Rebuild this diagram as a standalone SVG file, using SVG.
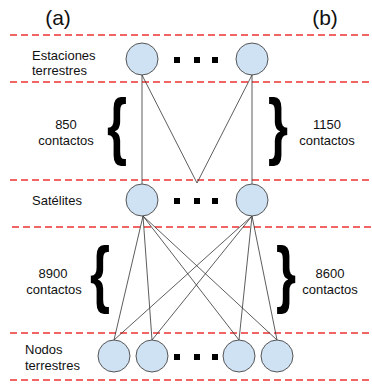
<svg xmlns="http://www.w3.org/2000/svg" width="372" height="386" viewBox="0 0 372 386">
<style>
text{font-family:"Liberation Sans",Arial,sans-serif;fill:#111}
.lbl{font-size:13px;text-anchor:middle}
.left{font-size:13px;text-anchor:start}
.hdr{font-size:21px;text-anchor:middle}
.dash{stroke:#ee3333;stroke-width:1.4;stroke-dasharray:7 4;fill:none}
.node{fill:#cfe2f3;stroke:#555;stroke-width:1}
.dot{fill:#000}
.edge{stroke:#333;stroke-width:0.8;fill:none}
.brace{font-weight:bold;text-anchor:middle;fill:#000}
</style>
<g id="separators">
<line class="dash" x1="10" y1="35" x2="372" y2="35"/>
<line class="dash" x1="10" y1="82" x2="372" y2="82"/>
<line class="dash" x1="10" y1="180" x2="372" y2="180"/>
<line class="dash" x1="12" y1="227" x2="372" y2="227"/>
<line class="dash" x1="10" y1="333" x2="372" y2="333"/>
<line class="dash" x1="10" y1="380" x2="372" y2="380"/>
</g>
<g id="headers">
<text class="hdr" x="58" y="25">(a)</text>
<text class="hdr" x="325" y="25">(b)</text>
</g>
<g id="row-labels">
<text class="left" x="32" y="60">Estaciones</text>
<text class="left" x="32" y="75">terrestres</text>
<text class="lbl" x="57" y="205">Satélites</text>
<text class="left" x="25" y="354">Nodos</text>
<text class="left" x="25" y="370">terrestres</text>
</g>
<g id="counts">
<text class="lbl" x="66" y="129">850</text>
<text class="lbl" x="66" y="145">contactos</text>
<text class="lbl" x="327" y="129">1150</text>
<text class="lbl" x="327" y="145">contactos</text>
<text class="lbl" x="53" y="278">8900</text>
<text class="lbl" x="54" y="294">contactos</text>
<text class="lbl" x="330" y="278">8600</text>
<text class="lbl" x="330" y="294">contactos</text>
</g>
<g id="braces">
<text class="brace" transform="translate(117,151) scale(1.05,1.5)" font-size="49">{</text>
<text class="brace" transform="translate(278,151) scale(1.05,1.5)" font-size="49">}</text>
<text class="brace" transform="translate(100,299) scale(1.05,1.5)" font-size="49">{</text>
<text class="brace" transform="translate(286,299) scale(1.05,1.5)" font-size="49">}</text>
</g>
<g id="connectors">
<line class="edge" x1="142" y1="75" x2="142" y2="184"/>
<line class="edge" x1="142" y1="75" x2="197" y2="183"/>
<line class="edge" x1="252" y1="75" x2="197" y2="183"/>
<line class="edge" x1="252" y1="75" x2="252" y2="184"/>
<line class="edge" x1="143" y1="216" x2="114" y2="340"/>
<line class="edge" x1="143" y1="216" x2="152" y2="340"/>
<line class="edge" x1="143" y1="216" x2="239" y2="340"/>
<line class="edge" x1="143" y1="216" x2="277" y2="340"/>
<line class="edge" x1="252" y1="216" x2="114" y2="340"/>
<line class="edge" x1="252" y1="216" x2="152" y2="340"/>
<line class="edge" x1="252" y1="216" x2="239" y2="340"/>
<line class="edge" x1="252" y1="216" x2="277" y2="340"/>
</g>
<g id="estacion-1"><circle class="node" cx="142" cy="59" r="16"/></g>
<g id="estacion-n"><circle class="node" cx="252" cy="59" r="16"/></g>
<g id="estacion-dots">
<rect class="dot" x="174" y="57" width="6" height="6"/>
<rect class="dot" x="194" y="57" width="6" height="6"/>
<rect class="dot" x="212" y="57" width="6" height="6"/>
</g>
<g id="satelite-1"><circle class="node" cx="142" cy="200" r="16"/></g>
<g id="satelite-n"><circle class="node" cx="252" cy="200" r="16"/></g>
<g id="satelite-dots">
<rect class="dot" x="174" y="198" width="6" height="6"/>
<rect class="dot" x="194" y="198" width="6" height="6"/>
<rect class="dot" x="212" y="198" width="6" height="6"/>
</g>
<g id="nodo-1"><circle class="node" cx="114" cy="356" r="16"/></g>
<g id="nodo-2"><circle class="node" cx="152" cy="356" r="16"/></g>
<g id="nodo-3"><circle class="node" cx="239" cy="356" r="16"/></g>
<g id="nodo-4"><circle class="node" cx="277" cy="356" r="16"/></g>
<g id="nodo-dots">
<rect class="dot" x="174" y="354" width="6" height="6"/>
<rect class="dot" x="194" y="354" width="6" height="6"/>
<rect class="dot" x="212" y="354" width="6" height="6"/>
</g>
</svg>
